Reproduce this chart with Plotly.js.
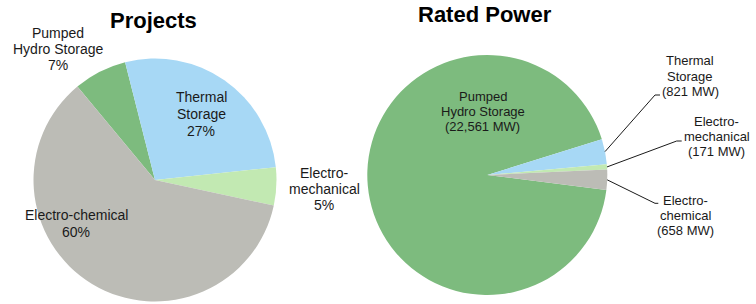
<!DOCTYPE html>
<html><head><meta charset="utf-8">
<script src="https://cdn.plot.ly/plotly-3.0.1.min.js"></script>
<style>html,body{margin:0;padding:0;background:#fff}#chart{width:756px;height:304px}</style>
</head><body><div id="chart"></div>
<script>
// ---- data ----
const categories = ['Pumped Hydro Storage', 'Thermal Storage', 'Electro-mechanical', 'Electro-chemical'];
const projectShares = [7, 27, 5, 60];           // % of projects
const ratedPowerMW = [22561, 821, 171, 658];    // MW
const projectLabelLines = [['Pumped', 'Hydro Storage'], ['Thermal', 'Storage'], ['Electro-', 'mechanical'], ['Electro-chemical']];
const powerLabelLines = [['Pumped', 'Hydro Storage'], ['Thermal', 'Storage'], ['Electro-', 'mechanical'], ['Electro-', 'chemical']];
const chartTitles = ['Projects', 'Rated Power'];

// ---- style / layout ----
const W = 756, H = 304;
const FONT = '"Liberation Sans", Arial, sans-serif';
const colors = ['#7dbb7e', '#a7d8f5', '#c2e9b2', '#bcbcb6'];
const px = x => x / W, py = y => 1 - y / H;

const leftPie = {cx: 155, cy: 180, r: 121.5, rot: -39.7};
const rightPie = {cx: 487.3, cy: 175, r: 120, rot: 97.2};

function pieTrace(values, g) {
  return {
    type: 'pie', labels: categories, values: values, sort: false,
    direction: 'clockwise', rotation: g.rot,
    marker: {colors: colors, line: {width: 0}},
    textinfo: 'none', hoverinfo: 'label+value', showlegend: false,
    domain: {x: [px(g.cx - g.r), px(g.cx + g.r)], y: [py(g.cy + g.r), py(g.cy - g.r)]}
  };
}

// label placement (center x, first line y, line step, font size)
const projectLabelPos = [[58, 33.3, 16], [201, 97, 16.8], [324, 173.3, 16], [76, 215, 16.8]];
const powerLabelPos = [[482.5, 96, 15.2], [690, 60, 16], [716.7, 121.7, 15], [685, 200, 15]];
const powerInside = [true, false, false, false];
const leaderElbows = [null, [655, 95, 660], [676.7, 141, 681.7], [655, 203.3, 658.3]];

const annotations = [];
function addLines(lines, pos, size) {
  lines.forEach((t, i) => annotations.push({
    xref: 'paper', yref: 'paper', x: px(pos[0]), y: py(pos[1] + i * pos[2]),
    xanchor: 'center', yanchor: 'middle', showarrow: false, text: t,
    font: {family: FONT, size: size, color: '#1a1a1a'}
  }));
}
const totalProj = projectShares.reduce((a, b) => a + b, 0);
categories.forEach((c, i) => {
  addLines(projectLabelLines[i].concat([projectShares[i] + '%']), projectLabelPos[i], 14);
  addLines(powerLabelLines[i].concat(['(' + ratedPowerMW[i].toLocaleString('en-US') + ' MW)']), powerLabelPos[i], 13);
});
annotations.push({xref: 'paper', yref: 'paper', x: px(153), y: py(21), xanchor: 'center', yanchor: 'middle',
  showarrow: false, text: '<b>' + chartTitles[0] + '</b>', font: {family: FONT, size: 22, color: '#000'}});
annotations.push({xref: 'paper', yref: 'paper', x: px(485), y: py(15), xanchor: 'center', yanchor: 'middle',
  showarrow: false, text: '<b>' + chartTitles[1] + '</b>', font: {family: FONT, size: 22, color: '#000'}});

// leader lines from slice mid-angle on the right pie
const shapes = [];
const totalMW = ratedPowerMW.reduce((a, b) => a + b, 0);
let acc = 0;
ratedPowerMW.forEach((v, i) => {
  const mid = (rightPie.rot + (acc + v / 2) / totalMW * 360) * Math.PI / 180;
  acc += v;
  if (!leaderElbows[i]) return;
  const sx = rightPie.cx + rightPie.r * Math.sin(mid), sy = rightPie.cy - rightPie.r * Math.cos(mid);
  const e = leaderElbows[i];
  shapes.push({type: 'path', xref: 'paper', yref: 'paper',
    path: `M ${px(sx)} ${py(sy)} L ${px(e[0])} ${py(e[1])} L ${px(e[2])} ${py(e[1])}`,
    line: {color: '#1a1a1a', width: 1}});
});

Plotly.newPlot('chart', [pieTrace(projectShares, leftPie), pieTrace(ratedPowerMW, rightPie)], {
  width: W, height: H, margin: {l: 0, r: 0, t: 0, b: 0},
  paper_bgcolor: '#fff', plot_bgcolor: '#fff',
  annotations: annotations, shapes: shapes, showlegend: false
}, {displayModeBar: false, staticPlot: true});
</script></body></html>
